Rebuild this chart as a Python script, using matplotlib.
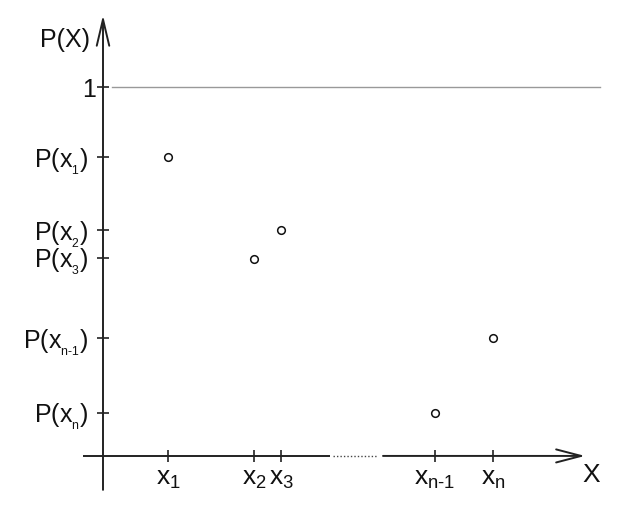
import matplotlib
matplotlib.use("Agg")
import matplotlib.pyplot as plt

plt.rcParams['font.family'] = ['Liberation Sans', 'DejaVu Sans']
plt.rcParams['mathtext.fontset'] = 'custom'
plt.rcParams['mathtext.rm'] = 'Liberation Sans'
plt.rcParams['mathtext.it'] = 'Liberation Sans'
plt.rcParams['mathtext.default'] = 'regular'

# x positions of the outcomes and their probabilities
x_vals = [0.65, 1.51, 1.78, 3.32, 3.90]
x_labels = ['x$_1$', 'x$_2$', 'x$_3$', 'x$_{\\text{n-1}}$', 'x$_\\text{n}$']

p_ticks = [1.0, 0.810, 0.612, 0.537, 0.320, 0.117]
p_labels = ['1', 'P(x$_{_1}$)', 'P(x$_{_2}$)', 'P(x$_{_3}$)',
            'P(x$_{_{\\text{n-1}}}$)', 'P(x$_{_\\text{n}}$)']

# points as drawn in the picture
p_points = [0.810, 0.534, 0.612, 0.117, 0.320]

axis_col = '#222222'

fig = plt.figure(figsize=(6.39, 5.12), dpi=100)
ax = fig.add_axes([0, 0, 1, 1])
ax.set_xlim(-1.03, 5.36)
ax.set_ylim(-0.152, 1.236)

for s in ax.spines.values():
    s.set_visible(False)
ax.spines['left'].set_position(('data', 0))
ax.spines['bottom'].set_position(('data', 0))

# y axis with arrow
ax.annotate('', xy=(0, 1.195), xytext=(0, -0.092),
            arrowprops=dict(arrowstyle='->,head_length=1.9,head_width=0.45',
                            lw=1.4, color=axis_col, mutation_scale=10,
                            shrinkA=0, shrinkB=0))
# x axis: left part, dotted gap, right part with arrow
ax.plot([-0.2, 2.27], [0, 0], color=axis_col, lw=1.4, solid_capstyle='butt')
ax.plot([2.30, 2.75], [0, 0], color='#444444', lw=1.0, ls=(0, (1, 1.5)))
ax.annotate('', xy=(4.82, 0), xytext=(2.80, 0),
            arrowprops=dict(arrowstyle='->,head_length=1.8,head_width=0.47',
                            lw=1.4, color=axis_col, mutation_scale=10,
                            shrinkA=0, shrinkB=0))

# line at probability 1
ax.plot([0.09, 4.97], [1, 1], color='#999999', lw=1.0)

# the probability points
ax.plot(x_vals, p_points, 'o', ms=5.5, mfc='white', mec='#111111', mew=1.1)

ax.set_xticks(x_vals)
ax.set_xticklabels(x_labels)
ax.set_yticks(p_ticks)
ax.set_yticklabels(p_labels)
ax.tick_params(axis='both', direction='inout', length=8.6, width=1.2,
               color=axis_col, labelcolor='#111111')
ax.tick_params(axis='y', pad=6, labelsize=18)
ax.tick_params(axis='x', pad=4, labelsize=19)
ax.yaxis.get_major_ticks()[0].set_pad(1)

ax.text(-0.13, 1.127, 'P(X)', fontsize=18, ha='right', va='center', color='#111111')
ax.text(4.88, -0.053, 'X', fontsize=19, ha='center', va='center', color='#111111')

fig.savefig('out.png', dpi=100)
